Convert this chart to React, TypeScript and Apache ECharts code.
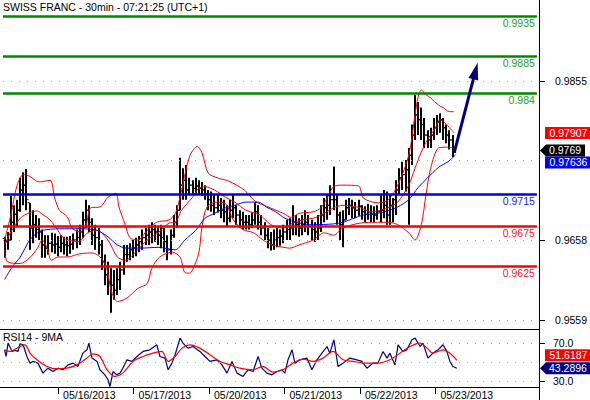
import React, { useEffect, useRef } from 'react';
import * as echarts from 'echarts';

const FONT = '"Liberation Sans", Arial, sans-serif';
const TITLE = 'SWISS FRANC - 30min - 07:21:25 (UTC+1)';
const RSI_TITLE = 'RSI14 - 9MA';

const dayTickIndex = [17, 41, 65, 89, 113, 137];
const dayLabels = ['05/16/2013', '05/17/2013', '05/20/2013', '05/21/2013', '05/22/2013', '05/23/2013'];
const priceTicks = [0.9559, 0.9658, 0.9855];
const priceGrid = [0.9559, 0.9658, 0.9757, 0.9855];
const rsiTicks = [30, 70];
const rsiGrid = [30, 50, 70];

const greenLevels = [0.9935, 0.9885, 0.984];
const blueLevels = [0.9715];
const redLevels = [0.9675, 0.9625];

const arrowStart = [143.5, 0.9766];
const arrowEnd = [150.3, 0.98674];

const lastMid = 0.97907;
const lastClose = 0.9769;
const lastMA = 0.97636;
const lastRsi = 43.2896;
const lastRsiMA = 51.6187;

const firstOpen = 0.966;
const highs = [
  0.9662, 0.9668, 0.9713, 0.9701, 0.9708, 0.9735, 0.9742, 0.9746, 0.9704, 0.9695,
  0.9689, 0.9685, 0.9671, 0.9664, 0.9664, 0.9667, 0.9666, 0.9663, 0.9664, 0.9662,
  0.9662, 0.9663, 0.9666, 0.9671, 0.9677, 0.9693, 0.9708, 0.9701, 0.9685, 0.9677,
  0.9673, 0.9658, 0.964, 0.9631, 0.9623, 0.9621, 0.9623, 0.9631, 0.9652, 0.9652,
  0.9654, 0.9658, 0.9661, 0.9663, 0.9671, 0.9673, 0.9677, 0.968, 0.9677, 0.9675,
  0.9677, 0.9673, 0.9664, 0.9671, 0.9689, 0.9701, 0.976, 0.9747, 0.9751, 0.9735,
  0.9732, 0.9735, 0.9732, 0.973, 0.9726, 0.972, 0.9718, 0.9714, 0.9714, 0.971,
  0.9708, 0.9701, 0.9708, 0.9714, 0.9701, 0.9695, 0.9693, 0.9689, 0.9689, 0.9692,
  0.9705, 0.9701, 0.9689, 0.968, 0.9673, 0.9668, 0.9671, 0.9673, 0.9671, 0.9677,
  0.9683, 0.9685, 0.9701, 0.9689, 0.9685, 0.9689, 0.9695, 0.9689, 0.9683, 0.968,
  0.9689, 0.9701, 0.971, 0.9714, 0.9726, 0.9749, 0.9714, 0.9693, 0.9695, 0.9708,
  0.971, 0.9708, 0.9705, 0.9708, 0.9701, 0.97, 0.9703, 0.9701, 0.97, 0.9701,
  0.9714, 0.972, 0.9718, 0.9714, 0.971, 0.9732, 0.9747, 0.9755, 0.9757, 0.9772,
  0.9801, 0.9838, 0.9829, 0.9822, 0.9809, 0.9794, 0.9797, 0.9809, 0.9813, 0.9815,
  0.9809, 0.9801, 0.9794, 0.9788,
];
const lows = [
  0.9636, 0.9646, 0.9658, 0.9668, 0.9674, 0.9693, 0.9701, 0.9695, 0.9646, 0.9654,
  0.9661, 0.9658, 0.9636, 0.9636, 0.964, 0.9643, 0.9641, 0.9638, 0.9643, 0.964,
  0.9638, 0.9641, 0.9646, 0.9648, 0.9652, 0.9661, 0.9673, 0.9668, 0.9652, 0.9646,
  0.964, 0.9621, 0.9602, 0.959, 0.9568, 0.9584, 0.959, 0.9596, 0.9615, 0.9631,
  0.9633, 0.9636, 0.9638, 0.9643, 0.9646, 0.9652, 0.9652, 0.9654, 0.9656, 0.9652,
  0.9648, 0.9643, 0.9633, 0.964, 0.9661, 0.9673, 0.9695, 0.9708, 0.9708, 0.9714,
  0.9714, 0.9715, 0.9714, 0.9713, 0.9708, 0.9695, 0.9693, 0.9689, 0.9692, 0.9685,
  0.968, 0.9675, 0.968, 0.9685, 0.9677, 0.9673, 0.9671, 0.9671, 0.9671, 0.9673,
  0.9677, 0.9671, 0.9664, 0.9658, 0.9648, 0.9645, 0.9646, 0.9649, 0.9651, 0.9654,
  0.9658, 0.9658, 0.9664, 0.9664, 0.9662, 0.9664, 0.9668, 0.9664, 0.9658, 0.9656,
  0.9658, 0.9668, 0.968, 0.9683, 0.9689, 0.9695, 0.9677, 0.9658, 0.9649, 0.9683,
  0.9689, 0.9685, 0.9685, 0.9688, 0.9683, 0.968, 0.9683, 0.968, 0.968, 0.9683,
  0.968, 0.9685, 0.9677, 0.9677, 0.968, 0.9689, 0.9714, 0.972, 0.9718, 0.9677,
  0.9751, 0.9782, 0.9788, 0.9782, 0.9772, 0.9772, 0.9772, 0.9782, 0.9788, 0.9791,
  0.9782, 0.9778, 0.977, 0.9761,
];
const closes = [
  0.9656, 0.9658, 0.968, 0.969, 0.9695, 0.972, 0.9726, 0.9708, 0.9673, 0.9677,
  0.9671, 0.9668, 0.9652, 0.9648, 0.9654, 0.9652, 0.9653, 0.9649, 0.9654, 0.9652,
  0.9651, 0.9653, 0.9658, 0.9661, 0.9668, 0.9683, 0.9695, 0.968, 0.9664, 0.9661,
  0.9652, 0.9631, 0.9615, 0.9606, 0.9602, 0.9596, 0.9609, 0.9621, 0.964, 0.964,
  0.9646, 0.9648, 0.9652, 0.9656, 0.9661, 0.9664, 0.9668, 0.9671, 0.9668, 0.9664,
  0.9661, 0.9656, 0.9646, 0.9664, 0.968, 0.9695, 0.9726, 0.9732, 0.972, 0.9726,
  0.9722, 0.9725, 0.9722, 0.972, 0.9715, 0.9708, 0.9701, 0.9698, 0.9701, 0.9695,
  0.9693, 0.9685, 0.9695, 0.9698, 0.9689, 0.9683, 0.968, 0.968, 0.9677, 0.9683,
  0.9693, 0.968, 0.9673, 0.9664, 0.9658, 0.9652, 0.9658, 0.9661, 0.9663, 0.9668,
  0.9671, 0.9673, 0.968, 0.9677, 0.9673, 0.9677, 0.968, 0.9675, 0.9671, 0.9668,
  0.9673, 0.9689, 0.9698, 0.9701, 0.9708, 0.9708, 0.9689, 0.9677, 0.9683, 0.9698,
  0.9701, 0.9698, 0.9695, 0.97, 0.9693, 0.969, 0.9693, 0.969, 0.9689, 0.9693,
  0.9695, 0.9701, 0.9689, 0.9701, 0.9708, 0.972, 0.9735, 0.9739, 0.9745, 0.9763,
  0.9788, 0.9813, 0.9807, 0.9801, 0.9788, 0.9782, 0.9788, 0.9797, 0.9804, 0.9807,
  0.9797, 0.9788, 0.9782, 0.9769,
];

const bbUpper = [
  [0, 0.9658], [2, 0.9689], [4, 0.9726], [6, 0.9739], [8, 0.9737], [11, 0.973], [14.5, 0.9732],
  [16, 0.971], [17.5, 0.9695], [20, 0.9687], [21.5, 0.9673], [24, 0.9668], [26, 0.9677],
  [27.5, 0.9698], [30.5, 0.9699], [33, 0.9711], [35.5, 0.9716], [36.5, 0.9699], [38.5, 0.9677],
  [40, 0.9661], [42.5, 0.9658], [45.5, 0.967], [48.5, 0.968], [52.5, 0.9683], [54.5, 0.9691],
  [56, 0.9711], [59, 0.9761], [61.5, 0.9774], [63, 0.9766], [65, 0.9741], [68, 0.9735],
  [71.5, 0.9731], [76.5, 0.972], [80, 0.9706], [83.5, 0.97], [89, 0.9691], [91.5, 0.9686],
  [94, 0.9691], [98.5, 0.9693], [101, 0.9698], [103.5, 0.9714], [105, 0.9724], [108, 0.9726],
  [113, 0.9725], [114.5, 0.971], [119.5, 0.9704], [122.5, 0.9708], [125.5, 0.9726], [129, 0.9763],
  [131, 0.9813], [132, 0.9835], [133, 0.9844], [134.5, 0.9838], [136, 0.9834], [138.5, 0.9825],
  [140, 0.9822], [142, 0.9817], [143.5, 0.9817],
];
const bbMid = [
  [0, 0.9652], [2, 0.9668], [5, 0.9685], [8, 0.9692], [10.5, 0.9694], [12, 0.969], [14.5, 0.9683],
  [17, 0.967], [19, 0.966], [23.5, 0.9656], [26.5, 0.9667], [29.5, 0.967], [33, 0.9658],
  [36, 0.9637], [38.5, 0.9633], [42.5, 0.9646], [45.5, 0.9658], [49, 0.9667], [52.5, 0.9679],
  [54.5, 0.968], [56.5, 0.9695], [60, 0.9711], [62, 0.9722], [64, 0.9724], [67, 0.972],
  [70.5, 0.9711], [73.5, 0.9705], [77, 0.9695], [81.5, 0.9689], [85, 0.9677], [89, 0.9673],
  [92, 0.9679], [95, 0.9683], [98.5, 0.9685], [102, 0.9691], [105, 0.9698], [108, 0.9701],
  [113.5, 0.9698], [117, 0.9693], [120, 0.9695], [123, 0.9699], [125.5, 0.9705], [129, 0.9726],
  [131, 0.9747], [133, 0.9767], [134.5, 0.9779], [137.5, 0.9797], [139, 0.9807], [140.5, 0.9803],
  [143.5, 0.97907],
];
const bbLower = [
  [0, 0.9646], [1, 0.9631], [5, 0.9629], [8, 0.9636], [10.5, 0.9648], [12, 0.9658], [13.5, 0.9649],
  [15, 0.9633], [17, 0.9637], [20, 0.9637], [24, 0.9641], [28, 0.9642], [30.5, 0.9637],
  [32.5, 0.9625], [34, 0.9596], [36, 0.9582], [39, 0.9586], [42.5, 0.9598], [45.5, 0.9604],
  [47, 0.9623], [49.5, 0.9637], [53.5, 0.9643], [56, 0.9637], [57.5, 0.9618], [59, 0.9617],
  [60, 0.9621], [62, 0.9642], [63, 0.9674], [64.5, 0.9698], [67.5, 0.9705], [70.5, 0.9703],
  [73, 0.9683], [76, 0.9671], [79.5, 0.9667], [82.5, 0.9658], [85.5, 0.9652], [89, 0.9649],
  [91, 0.9648], [94, 0.9652], [98.5, 0.9658], [102, 0.9667], [105, 0.9664], [108, 0.9673],
  [113.5, 0.9679], [119, 0.968], [122.5, 0.968], [125.5, 0.9677], [129, 0.9667], [131, 0.9658],
  [133, 0.9677], [134.5, 0.9714], [136, 0.9747], [138.5, 0.9772], [141, 0.9773], [143, 0.9772],
  [144, 0.9766],
];
const movingAvg = [
  [0, 0.9609], [2.5, 0.9625], [5, 0.9637], [8, 0.9658], [10.5, 0.9667], [12, 0.967], [17.5, 0.9672],
  [24, 0.9672], [29.5, 0.967], [33, 0.9662], [36, 0.9652], [39, 0.9648], [43.5, 0.9648],
  [49, 0.9649], [54.5, 0.9646], [57.5, 0.9658], [61, 0.967], [64, 0.9685], [67, 0.9691],
  [70.5, 0.9698], [73.5, 0.9701], [77, 0.9705], [81, 0.9705], [83.5, 0.9699], [86.5, 0.9693],
  [89.5, 0.9685], [94, 0.9679], [98.5, 0.9677], [105, 0.9678], [108, 0.968], [111.5, 0.9685],
  [114.5, 0.9689], [119, 0.9691], [123, 0.9695], [125.5, 0.9699], [129, 0.9708], [132, 0.9723],
  [135, 0.9735], [138.5, 0.9748], [141.5, 0.9755], [144, 0.97636],
];

const rsi = [
  [0, 62.6], [0.5, 55.6], [1.1, 69.7], [2.4, 60.9], [3.3, 62.0], [4.3, 60.9], [4.9, 69.0], [5.9, 67.9],
  [7.1, 55.6], [8.1, 48.6], [9.0, 50.4], [10.6, 48.6], [12.2, 38.1], [13.8, 43.3], [15.4, 39.8],
  [17.0, 43.3], [18.6, 41.6], [20.2, 46.8], [21.8, 48.6], [23.3, 45.1], [24.9, 59.1], [26.2, 62.6],
  [26.8, 69.7], [27.8, 53.9], [29.4, 50.4], [30.3, 41.6], [31.9, 36.3], [32.9, 31.1], [33.5, 24.0],
  [34.5, 39.8], [35.7, 36.3], [36.7, 38.1], [37.6, 43.3], [38.9, 52.1], [40.5, 50.4], [42.1, 55.6],
  [44.0, 60.9], [46.2, 62.6], [48.4, 67.9], [49.4, 55.6], [51.0, 53.9], [52.0, 41.6], [53.2, 48.6],
  [54.2, 57.4], [55.8, 74.9], [56.7, 69.7], [58.3, 64.4], [59.9, 66.1], [62.1, 60.9], [63.7, 55.6],
  [65.3, 50.4], [67.5, 52.1], [69.1, 46.8], [70.7, 38.1], [72.3, 50.4], [73.9, 38.1], [75.8, 34.6],
  [77.4, 41.6], [79.0, 39.8], [80.6, 55.6], [81.8, 43.3], [83.4, 38.1], [85.0, 36.3], [86.6, 39.8],
  [88.2, 41.6], [89.1, 38.1], [90.1, 52.1], [91.4, 62.6], [92.3, 48.6], [93.9, 52.1], [96.1, 53.9],
  [97.7, 41.6], [99.3, 52.1], [100.9, 59.1], [102.5, 66.1], [103.4, 59.1], [104.7, 73.2],
  [106.0, 45.1], [107.6, 48.6], [109.8, 53.9], [112.0, 52.1], [113.6, 50.4], [115.2, 43.3],
  [117.1, 48.6], [118.7, 48.6], [120.3, 60.9], [121.6, 53.9], [122.5, 59.1], [124.1, 46.8],
  [125.1, 67.9], [126.6, 60.9], [127.9, 62.6], [129.5, 73.2], [130.5, 74.9], [132.1, 66.1],
  [133.0, 69.7], [134.6, 53.9], [136.2, 59.1], [137.8, 62.6], [139.4, 67.9], [140.6, 60.9],
  [141.6, 50.4], [142.5, 45.1], [143.8, 43.2896],
];
const rsiMA = [
  [0, 62.6], [1.7, 60.9], [4.9, 66.1], [6.5, 67.9], [8.1, 59.1], [10.3, 52.1], [13.5, 45.1],
  [16.7, 42.5], [19.8, 43.3], [23.0, 46.8], [26.2, 53.9], [28.1, 58.4], [30.3, 55.6], [32.6, 41.6],
  [35.1, 34.6], [37.6, 38.1], [40.8, 50.4], [44.0, 55.6], [47.2, 59.1], [50.0, 60.9], [52.0, 50.4],
  [54.2, 55.6], [56.4, 64.4], [58.9, 67.9], [62.1, 64.4], [65.3, 57.4], [68.5, 50.4], [71.7, 46.8],
  [74.8, 43.3], [79.0, 41.6], [82.1, 45.1], [85.3, 39.1], [88.5, 41.6], [91.7, 48.6], [94.9, 52.8],
  [98.0, 50.4], [101.2, 53.9], [104.4, 60.9], [107.6, 52.1], [110.8, 50.4], [115.2, 48.6],
  [118.4, 48.6], [122.5, 52.1], [125.7, 59.1], [128.9, 66.1], [132.1, 69.7], [134.3, 64.4],
  [136.2, 59.1], [139.4, 62.6], [141.6, 59.1], [143.8, 51.6187],
];

const X_MIN = -0.5;
const X_MAX = 169.9;

export default function App() {
  const ref = useRef<HTMLDivElement>(null);
  useEffect(() => {
    if (!ref.current) return;
    const chart = echarts.init(ref.current, undefined, { renderer: 'svg' });

    const ohlc = closes.map((c, i) => {
      const prev = i === 0 ? firstOpen : closes[i - 1];
      const o = Math.min(highs[i], Math.max(lows[i], prev));
      return [i, o, c, lows[i], highs[i]];
    });

    const levelItems = [
      ...greenLevels.map((v) => ({ v, line: '#008800', text: '#22a022' })),
      ...blueLevels.map((v) => ({ v, line: '#0000ee', text: '#1a1aff' })),
      ...redLevels.map((v) => ({ v, line: '#ff0000', text: '#ff2020' })),
    ].map((d) => ({
      yAxis: d.v,
      lineStyle: { color: d.line, width: 2.5, type: 'solid' },
      label: {
        show: true,
        position: 'insideEndBottom',
        formatter: String(d.v),
        color: d.text,
        fontSize: 10.5,
        fontFamily: FONT,
        distance: [2, 1],
      },
    }));

    const dotted = { color: '#a8a8a8', width: 1, type: [1, 7] as any };

    const option: any = {
      animation: false,
      backgroundColor: '#ffffff',
      textStyle: { fontFamily: FONT },
      grid: [
        { left: 3, top: 8.3, width: 536, height: 318.96 },
        { left: 3, top: 329, width: 536, height: 58 },
      ],
      xAxis: [
        { type: 'value', gridIndex: 0, min: X_MIN, max: X_MAX, show: false },
        {
          type: 'value',
          gridIndex: 1,
          min: X_MIN,
          max: X_MAX,
          axisLine: { show: false },
          splitLine: { show: false },
          axisTick: { show: true, customValues: dayTickIndex, length: 7, lineStyle: { color: '#000' } },
          axisLabel: {
            customValues: dayTickIndex,
            formatter: (v: number) => {
              const k = dayTickIndex.indexOf(Math.round(v));
              return k >= 0 ? dayLabels[k] : '';
            },
            align: 'left',
            padding: [0, 0, 0, 5],
            margin: 2,
            color: '#000',
            fontSize: 10.5,
            fontFamily: FONT,
          },
        },
      ],
      yAxis: [
        {
          type: 'value',
          gridIndex: 0,
          position: 'right',
          min: 0.955,
          max: 0.9945,
          splitLine: { show: false },
          axisLine: { show: false },
          axisTick: { show: false },
          axisLabel: {
            customValues: priceTicks,
            formatter: (v: number) => v.toFixed(4),
            margin: 18,
            color: '#000',
            fontSize: 10.5,
            fontFamily: FONT,
          },
        },
        {
          type: 'value',
          gridIndex: 1,
          position: 'right',
          min: 23.5,
          max: 84.5,
          splitLine: { show: false },
          axisLine: { show: false },
          axisTick: { show: false },
          axisLabel: {
            customValues: rsiTicks,
            formatter: (v: number) => v.toFixed(1),
            margin: 14,
            color: '#000',
            fontSize: 10.5,
            fontFamily: FONT,
          },
        },
      ],
      series: [
        {
          name: 'OHLC',
          type: 'custom',
          xAxisIndex: 0,
          yAxisIndex: 0,
          z: 2,
          encode: { x: 0, y: [1, 2, 3, 4] },
          data: ohlc,
          renderItem: (params: any, api: any) => {
            const x = api.value(0);
            const o = api.coord([x, api.value(1)]);
            const c = api.coord([x, api.value(2)]);
            const l = api.coord([x, api.value(3)]);
            const h = api.coord([x, api.value(4)]);
            const px = Math.round(o[0]);
            return {
              type: 'group',
              children: [
                { type: 'line', shape: { x1: px, y1: h[1], x2: px, y2: l[1] }, style: { stroke: '#000', lineWidth: 2 } },
                { type: 'line', shape: { x1: px - 2.5, y1: o[1], x2: px, y2: o[1] }, style: { stroke: '#000', lineWidth: 1 } },
                { type: 'line', shape: { x1: px, y1: c[1], x2: px + 2.5, y2: c[1] }, style: { stroke: '#000', lineWidth: 1 } },
              ],
            };
          },
        },
        {
          name: 'BB upper',
          type: 'line',
          xAxisIndex: 0,
          yAxisIndex: 0,
          z: 3,
          data: bbUpper,
          smooth: 0.3,
          showSymbol: false,
          lineStyle: { color: '#ff0000', width: 1 },
          markLine: {
            silent: true,
            symbol: 'none',
            precision: 6,
            label: { show: false },
            lineStyle: dotted,
            data: priceGrid.map((v) => ({ yAxis: v })),
          },
        },
        {
          name: 'BB mid',
          type: 'line',
          xAxisIndex: 0,
          yAxisIndex: 0,
          z: 3,
          data: bbMid,
          smooth: 0.3,
          showSymbol: false,
          lineStyle: { color: '#ff0000', width: 1 },
        },
        {
          name: 'BB lower',
          type: 'line',
          xAxisIndex: 0,
          yAxisIndex: 0,
          z: 3,
          data: bbLower,
          smooth: 0.3,
          showSymbol: false,
          lineStyle: { color: '#ff0000', width: 1 },
        },
        {
          name: 'MA',
          type: 'line',
          xAxisIndex: 0,
          yAxisIndex: 0,
          z: 4,
          data: movingAvg,
          smooth: 0.3,
          showSymbol: false,
          lineStyle: { color: '#0000ff', width: 1 },
          markLine: {
            silent: true,
            symbol: 'none',
            precision: 6,
            data: [
              ...levelItems,
              [
                { coord: arrowStart, symbol: 'none', lineStyle: { color: '#000080', width: 3, type: 'solid' }, label: { show: false } },
                { coord: arrowEnd, symbol: 'triangle', symbolSize: [10, 17], itemStyle: { color: '#000080' } },
              ],
            ],
          },
        },
        {
          name: 'RSI',
          type: 'line',
          xAxisIndex: 1,
          yAxisIndex: 1,
          z: 3,
          data: rsi,
          showSymbol: false,
          lineStyle: { color: '#000080', width: 1.2 },
          markLine: {
            silent: true,
            symbol: 'none',
            precision: 6,
            label: { show: false },
            lineStyle: dotted,
            data: rsiGrid.map((v) => ({ yAxis: v })),
          },
        },
        {
          name: 'RSI MA',
          type: 'line',
          xAxisIndex: 1,
          yAxisIndex: 1,
          z: 4,
          data: rsiMA,
          smooth: 0.3,
          showSymbol: false,
          lineStyle: { color: '#ff0000', width: 1.2 },
        },
      ],
    };

    chart.setOption(option);

    const yP = (v: number) => chart.convertToPixel({ yAxisIndex: 0 }, v) as number;
    const yR = (v: number) => chart.convertToPixel({ yAxisIndex: 1 }, v) as number;

    const H = 12;
    const boxTag = (id: string, y: number, text: string, bg: string) => ({
      type: 'group',
      id,
      z: 100,
      children: [
        { type: 'rect', shape: { x: 545, y: y - H / 2, width: 45, height: H }, style: { fill: bg } },
        { type: 'text', x: 549.5, y, style: { text, fill: '#fff', font: `10.5px ${FONT}`, verticalAlign: 'middle' } },
      ],
    });
    const arrowTag = (id: string, y: number, text: string, bg: string, right: number) => ({
      type: 'group',
      id,
      z: 100,
      children: [
        {
          type: 'polygon',
          shape: { points: [[540, y], [546, y - H / 2], [right, y - H / 2], [right, y + H / 2], [546, y + H / 2]] },
          style: { fill: bg },
        },
        { type: 'text', x: 549, y, style: { text, fill: '#fff', font: `10.5px ${FONT}`, verticalAlign: 'middle' } },
      ],
    });
    const tick = (id: string, y: number) => ({
      type: 'line',
      id,
      shape: { x1: 540, y1: Math.round(y) + 0.5, x2: 545, y2: Math.round(y) + 0.5 },
      style: { stroke: '#000', lineWidth: 1 },
    });

    const yMid = yP(lastMid);
    const yClose = yP(lastClose);
    const yMA = Math.max(yP(lastMA), yClose + H);
    const yRsi = yR(lastRsi);
    const yRsiMA = Math.min(yR(lastRsiMA), yRsi - H - 1);

    chart.setOption({
      graphic: [
        { type: 'text', id: 'title', left: 3, top: 1, style: { text: TITLE, fill: '#000', font: `10.5px ${FONT}` } },
        { type: 'text', id: 'rsititle', left: 3, top: 331, style: { text: RSI_TITLE, fill: '#000', font: `10.5px ${FONT}` } },
        { type: 'line', id: 'vline', shape: { x1: 539.5, y1: 0, x2: 539.5, y2: 400 }, style: { stroke: '#000', lineWidth: 1 } },
        { type: 'line', id: 'rsitop', shape: { x1: 0, y1: 329.5, x2: 539.5, y2: 329.5 }, style: { stroke: '#000', lineWidth: 1 } },
        { type: 'line', id: 'rsibot', shape: { x1: 0, y1: 387.5, x2: 539.5, y2: 387.5 }, style: { stroke: '#000', lineWidth: 1 } },
        ...priceTicks.map((v, k) => tick('pt' + k, yP(v))),
        ...rsiTicks.map((v, k) => tick('rt' + k, yR(v))),
        boxTag('tagMid', yMid, lastMid.toFixed(5), '#ff0000'),
        arrowTag('tagClose', yClose, lastClose.toFixed(4), '#000000', 585),
        boxTag('tagMA', yMA, lastMA.toFixed(5), '#0000ff'),
        boxTag('tagRsiMA', yRsiMA, lastRsiMA.toFixed(4), '#ff0000'),
        arrowTag('tagRsi', yRsi, lastRsi.toFixed(4), '#000080', 590),
      ],
    });

    return () => chart.dispose();
  }, []);

  return <div ref={ref} style={{ position: 'absolute', left: 0, top: 0, width: 590, height: 400 }} />;
}
